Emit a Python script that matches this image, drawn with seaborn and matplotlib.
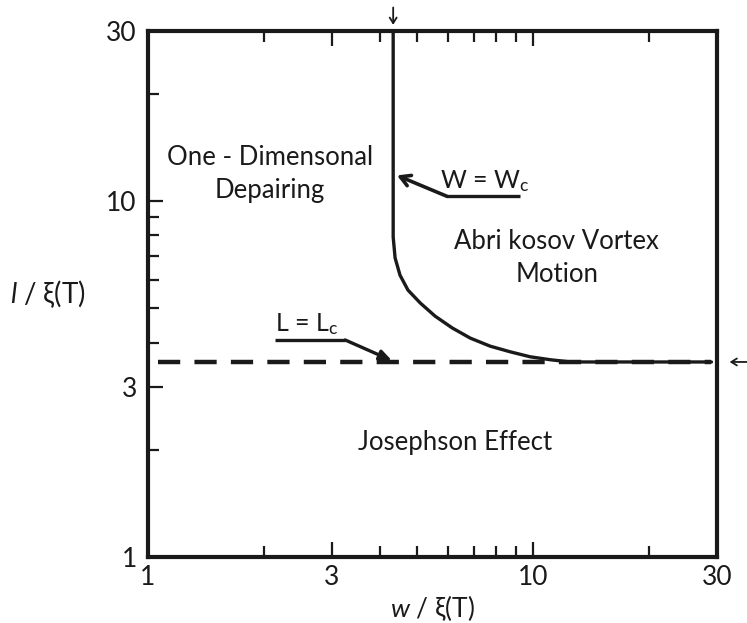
import numpy as np
import pandas as pd
import matplotlib
matplotlib.use("Agg")
import matplotlib.pyplot as plt
import seaborn as sns
from matplotlib.ticker import FixedLocator, NullFormatter

# boundary W = Wc (vertical part then bends into L = Lc)
wc_w = [4.33, 4.33, 4.38, 4.51, 4.73, 5.09, 5.56, 6.16, 6.86, 7.73, 8.71,
        9.82, 11.1, 12.5, 29.0]
wc_l = [30.0, 7.92, 6.92, 6.19, 5.62, 5.17, 4.75, 4.40, 4.12, 3.91, 3.77,
        3.65, 3.58, 3.53, 3.53]

# dashed line L = Lc
lc_w = [1.06, 29.0]
lc_l = [3.53, 3.53]

major_ticks = [1, 3, 10, 30]
minor_ticks = [2, 4, 5, 6, 7, 8, 9, 20]
tick_labels = ["1", "3", "10", "30"]

sns.set_style("ticks")
plt.rcParams['font.family'] = ['Lato', 'DejaVu Sans']
plt.rcParams['mathtext.fontset'] = 'custom'
plt.rcParams['mathtext.rm'] = 'Lato'
plt.rcParams['mathtext.it'] = 'Lato:italic'

ink = "#1a1a1a"
fig = plt.figure(figsize=(7.47, 6.23), dpi=100)
ax = fig.add_axes([0.198, 0.106, 0.762, 0.844])

df_wc = pd.DataFrame({"w": wc_w, "l": wc_l})
df_lc = pd.DataFrame({"w": lc_w, "l": lc_l})
sns.lineplot(data=df_lc, x="w", y="l", ax=ax, color=ink, lw=3.2,
             linestyle=(0, (5, 3.2)), sort=False, estimator=None)
sns.lineplot(data=df_wc, x="w", y="l", ax=ax, color=ink, lw=2.4,
             sort=False, estimator=None)

ax.set_xscale("log")
ax.set_yscale("log")
ax.set_xlim(1, 30)
ax.set_ylim(1, 30)

for axis in (ax.xaxis, ax.yaxis):
    axis.set_major_locator(FixedLocator(major_ticks))
    axis.set_minor_locator(FixedLocator(minor_ticks))
    axis.set_minor_formatter(NullFormatter())
ax.set_xticklabels(tick_labels)
ax.set_yticklabels(tick_labels)

ax.tick_params(which="both", direction="in", top=True, right=False,
               color=ink, labelsize=19, labelcolor=ink)
ax.tick_params(which="major", length=11, width=1.6)
ax.tick_params(which="minor", length=8, width=1.6)
ax.tick_params(axis="x", pad=6)
ax.tick_params(axis="y", pad=8)
for s in ax.spines.values():
    s.set_linewidth(3)
    s.set_color(ink)

ax.set_xlabel("$w$ / ξ(T)", fontsize=19, color=ink, labelpad=2)
ax.set_ylabel("$l$ / ξ(T)", fontsize=20, color=ink, rotation=0,
              labelpad=42, va="center")

txt = dict(fontsize=18.5, color=ink, ha="center", va="center", linespacing=1.4)
ax.text(2.07, 11.9, "One - Dimensonal\nDepairing", **txt)
ax.text(11.5, 6.92, "Abri kosov Vortex\nMotion", **txt)
ax.text(6.27, 2.09, "Josephson Effect", **txt)

ax.text(5.73, 11.4, "W = W$_{\\mathrm{c}}$", fontsize=18, color=ink,
        ha="left", va="center")
ax.text(2.14, 4.52, "L = L$_{\\mathrm{c}}$", fontsize=18, color=ink,
        ha="left", va="center")

arrow_w = dict(arrowstyle="->,head_length=0.7,head_width=0.4", color=ink,
               lw=2.6, shrinkA=0, shrinkB=0)
arrow_l = dict(arrowstyle="-|>,head_length=0.7,head_width=0.3", color=ink,
               lw=2.4, shrinkA=0, shrinkB=0)
ax.plot([9.25, 5.98], [10.3, 10.3], color=ink, lw=2.4, solid_capstyle="butt")
ax.annotate("", xy=(4.43, 11.8), xytext=(5.98, 10.3), arrowprops=arrow_w)
ax.plot([2.14, 3.25], [4.07, 4.07], color=ink, lw=2.4, solid_capstyle="butt")
ax.annotate("", xy=(4.30, 3.56), xytext=(3.25, 4.07), arrowprops=arrow_l)

small = dict(arrowstyle="->,head_length=0.4,head_width=0.25", color=ink,
             lw=1.3, shrinkA=0, shrinkB=0)
ax.annotate("", xy=(4.33, 1.012), xytext=(4.33, 1.045),
            xycoords=("data", "axes fraction"),
            textcoords=("data", "axes fraction"), arrowprops=small,
            annotation_clip=False)
ax.annotate("", xy=(1.022, 3.53), xytext=(1.055, 3.53),
            xycoords=("axes fraction", "data"),
            textcoords=("axes fraction", "data"), arrowprops=small,
            annotation_clip=False)

fig.savefig("out.png", dpi=100)
